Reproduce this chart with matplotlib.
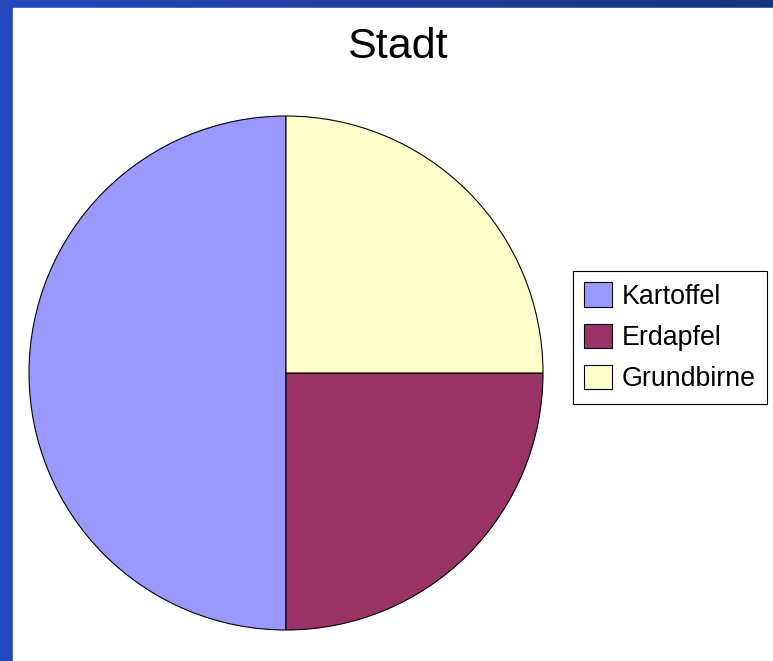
import matplotlib.pyplot as plt
import numpy as np
from matplotlib.patches import Rectangle
from matplotlib.colors import LinearSegmentedColormap

labels = ["Kartoffel", "Erdapfel", "Grundbirne"]
values = [50, 25, 25]
colors = ["#9999FF", "#993366", "#FFFFCC"]

W, H = 773, 661
plt.rcParams['font.family'] = ['Liberation Sans', 'DejaVu Sans']

fig = plt.figure(figsize=(W / 100, H / 100), dpi=100)

# blue frame with horizontal gradient
bg = fig.add_axes([0, 0, 1, 1])
grad = np.linspace(0, 1, 256).reshape(1, -1)
cmap = LinearSegmentedColormap.from_list("frame", ["#2449BE", "#1A3580"])
bg.imshow(grad, aspect='auto', cmap=cmap, extent=[0, 1, 0, 1])
bg.add_patch(Rectangle((13 / W, 0), 1, 1 - 8 / H, color="white"))
bg.set_xlim(0, 1)
bg.set_ylim(0, 1)
bg.axis('off')

cx, cy, r = 286, 373, 257
ax = fig.add_axes([(cx - r) / W, (H - cy - r) / H, 2 * r / W, 2 * r / H])
wedges, _ = ax.pie(values, colors=colors, startangle=90, counterclock=True,
                   wedgeprops=dict(edgecolor="black", linewidth=0.8))
ax.set_xlim(-1, 1)
ax.set_ylim(-1, 1)
ax.set_aspect('equal')

fig.text(397 / W, 1 - 47 / H, "Stadt", ha='center', va='center', fontsize=31)

leg = fig.legend(wedges, labels, loc='upper left',
                 bbox_to_anchor=(573 / W, 1 - 271 / H), borderaxespad=0,
                 fontsize=19.3, handlelength=1.03, handleheight=1.03,
                 handletextpad=0.35, labelspacing=0.52, borderpad=0.42,
                 fancybox=False, framealpha=1)
leg.get_frame().set_edgecolor("black")
leg.get_frame().set_linewidth(0.8)

fig.savefig("out.png", dpi=100)
